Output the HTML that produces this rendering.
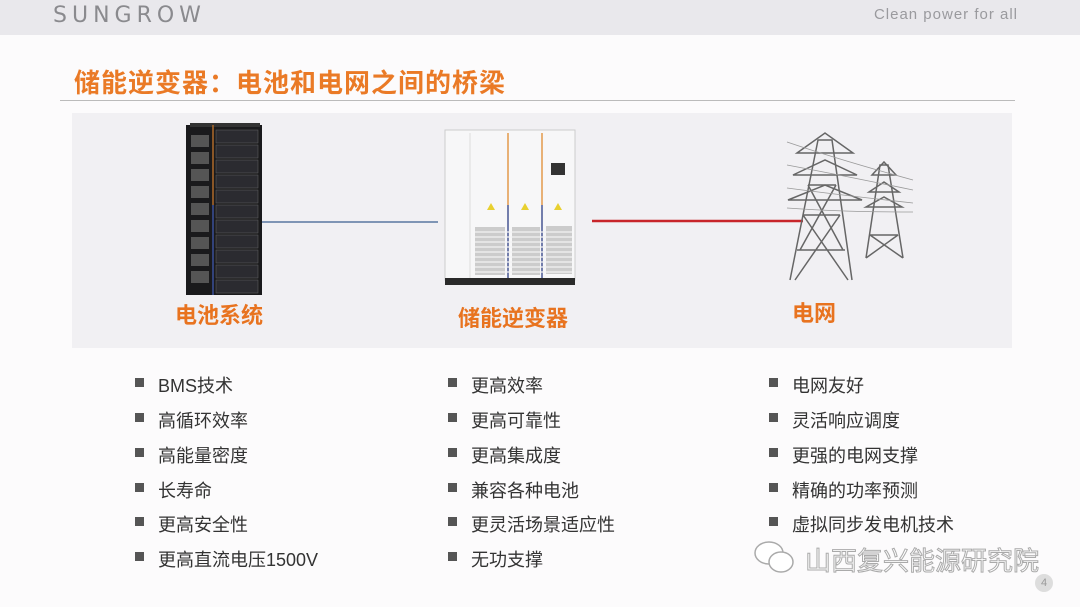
<!DOCTYPE html>
<html><head><meta charset="utf-8"><style>
body{margin:0;width:1080px;height:607px;background:#fcfbfc;position:relative;overflow:hidden;font-family:"Liberation Sans","Noto Sans CJK SC",sans-serif}
.hdr{position:absolute;left:0;top:0;width:1080px;height:35px;background:#e9e8ec}
.logo{position:absolute;left:53px;top:3px;font-size:22px;letter-spacing:5px;color:#8a8a8e;font-family:"DejaVu Sans",sans-serif}
.slogan{position:absolute;right:62px;top:6px;font-size:15px;color:#9a9a9e;letter-spacing:1px}
.title{position:absolute;left:74px;top:63px;font-size:26px;letter-spacing:1px;font-weight:bold;color:#ea7a26}
.rule{position:absolute;left:60px;top:100px;width:955px;height:1px;background:#bbb}
.panel{position:absolute;left:72px;top:113px;width:940px;height:235px;background:#f1f0f3}
.lbl{position:absolute;font-size:22px;font-weight:bold;color:#e8731f}
.b{position:absolute;font-size:18px;color:#333;white-space:nowrap}
.b:before{content:"";position:absolute;left:-23px;top:6px;width:9px;height:9px;background:#555}
.wm{position:absolute;left:805px;top:541px;font-size:26px;color:#fff;-webkit-text-stroke:1px #aaa}
.pg{position:absolute;left:1035px;top:574px;width:18px;height:18px;border-radius:9px;background:#ddd;color:#999;font-size:11px;text-align:center;line-height:18px}
</style></head><body>
<div class="hdr"></div>
<div class="logo">SUNGROW</div>
<div class="slogan">Clean power for all</div>
<div class="title">储能逆变器：电池和电网之间的桥梁</div>
<div class="rule"></div>
<div class="panel"></div>
<svg style="position:absolute;left:0;top:0" width="1080" height="607">
<rect x="186" y="125" width="76" height="170" fill="#1a1a1c"/>
<rect x="190" y="123" width="70" height="4" fill="#333"/>
<g fill="#555">
<rect x="191" y="135" width="18" height="12"/><rect x="191" y="152" width="18" height="12"/><rect x="191" y="169" width="18" height="12"/><rect x="191" y="186" width="18" height="12"/><rect x="191" y="203" width="18" height="12"/><rect x="191" y="220" width="18" height="12"/><rect x="191" y="237" width="18" height="12"/><rect x="191" y="254" width="18" height="12"/><rect x="191" y="271" width="18" height="12"/>
</g>
<g fill="#2b2b30" stroke="#666" stroke-width="0.5">
<rect x="216" y="130" width="42" height="13"/><rect x="216" y="145" width="42" height="13"/><rect x="216" y="160" width="42" height="13"/><rect x="216" y="175" width="42" height="13"/><rect x="216" y="190" width="42" height="13"/><rect x="216" y="205" width="42" height="13"/><rect x="216" y="220" width="42" height="13"/><rect x="216" y="235" width="42" height="13"/><rect x="216" y="250" width="42" height="13"/><rect x="216" y="265" width="42" height="13"/><rect x="216" y="280" width="42" height="13"/>
</g>
<line x1="213" y1="125" x2="213" y2="205" stroke="#b06a2a" stroke-width="1.5"/>
<line x1="213" y1="205" x2="213" y2="295" stroke="#3a4f9a" stroke-width="1.5"/>
<line x1="262" y1="222" x2="438" y2="222" stroke="#7f95b5" stroke-width="2"/>
<rect x="445" y="130" width="130" height="150" fill="#f7f7f8" stroke="#ccc"/>
<rect x="445" y="278" width="130" height="7" fill="#2a2a2a"/>
<line x1="508" y1="133" x2="508" y2="278" stroke="#e39a4a" stroke-width="1.5"/>
<line x1="542" y1="133" x2="542" y2="278" stroke="#e39a4a" stroke-width="1.5"/>
<line x1="508" y1="205" x2="508" y2="278" stroke="#4a66b0" stroke-width="1.5"/>
<line x1="542" y1="205" x2="542" y2="278" stroke="#4a66b0" stroke-width="1.5"/>
<line x1="470" y1="133" x2="470" y2="278" stroke="#ddd"/>
<rect x="551" y="163" width="14" height="12" fill="#333"/>
<g fill="#e8d030"><polygon points="491,203 487,210 495,210"/><polygon points="525,203 521,210 529,210"/><polygon points="558,203 554,210 562,210"/></g>
<g fill="#ccc"><rect x="475" y="227" width="30" height="48"/><rect x="512" y="227" width="28" height="48"/><rect x="546" y="226" width="26" height="48"/></g>
<g stroke="#f3f3f3" stroke-width="1.2">
<line x1="475" y1="232" x2="572" y2="232"/><line x1="475" y1="237" x2="572" y2="237"/><line x1="475" y1="242" x2="572" y2="242"/><line x1="475" y1="247" x2="572" y2="247"/><line x1="475" y1="252" x2="572" y2="252"/><line x1="475" y1="257" x2="572" y2="257"/><line x1="475" y1="262" x2="572" y2="262"/><line x1="475" y1="267" x2="572" y2="267"/><line x1="475" y1="272" x2="572" y2="272"/>
</g>
<line x1="592" y1="221" x2="803" y2="221" stroke="#c8252a" stroke-width="2.5"/>
<g stroke="#666" stroke-width="1.5" fill="none">
<path d="M790 280 L818 140 L832 140 L852 280 M797 250 L845 250 M803 215 L840 215 M795 280 L840 215 M848 280 L803 215 M808 185 L836 185 M800 250 L836 185 M843 250 L808 185"/>
<path d="M797 153 L825 133 L853 153 Z M793 175 L825 160 L857 175 Z M788 200 L825 185 L862 200 Z"/>
<path d="M866 258 L880 165 L888 165 L903 258 M870 235 L898 235 M866 258 L898 235 M903 258 L870 235"/>
<path d="M872 175 L884 162 L896 175 Z M869 192 L884 182 L899 192 Z M866 207 L884 197 L902 207 Z"/>
</g>
<g stroke="#999" stroke-width="0.8" fill="none">
<path d="M787 142 Q840 160 913 180 M787 165 Q840 175 913 190 M787 188 Q840 195 913 203 M787 208 Q840 212 913 212"/>
</g>
</svg>
<div class="lbl" style="left:175px;top:298px">电池系统</div>
<div class="lbl" style="left:458px;top:301px">储能逆变器</div>
<div class="lbl" style="left:792px;top:296px">电网</div>

<div class="b" style="left:158px;top:372px">BMS技术</div>
<div class="b" style="left:158px;top:407px">高循环效率</div>
<div class="b" style="left:158px;top:442px">高能量密度</div>
<div class="b" style="left:158px;top:477px">长寿命</div>
<div class="b" style="left:158px;top:511px">更高安全性</div>
<div class="b" style="left:158px;top:546px">更高直流电压1500V</div>

<div class="b" style="left:471px;top:372px">更高效率</div>
<div class="b" style="left:471px;top:407px">更高可靠性</div>
<div class="b" style="left:471px;top:442px">更高集成度</div>
<div class="b" style="left:471px;top:477px">兼容各种电池</div>
<div class="b" style="left:471px;top:511px">更灵活场景适应性</div>
<div class="b" style="left:471px;top:546px">无功支撑</div>

<div class="b" style="left:792px;top:372px">电网友好</div>
<div class="b" style="left:792px;top:407px">灵活响应调度</div>
<div class="b" style="left:792px;top:442px">更强的电网支撑</div>
<div class="b" style="left:792px;top:477px">精确的功率预测</div>
<div class="b" style="left:792px;top:511px">虚拟同步发电机技术</div>

<svg style="position:absolute;left:752px;top:540px" width="45" height="36">
<ellipse cx="17" cy="13" rx="14" ry="11" fill="#fff" stroke="#aaa" stroke-width="1.5"/>
<ellipse cx="29" cy="22" rx="12" ry="10" fill="#fff" stroke="#aaa" stroke-width="1.5"/>
</svg>
<div class="wm">山西复兴能源研究院</div>
<div class="pg">4</div>
</body></html>
